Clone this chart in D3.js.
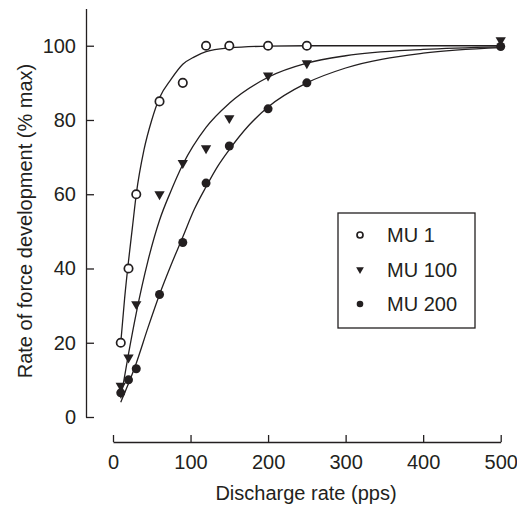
<!DOCTYPE html>
<html>
<head>
<meta charset="utf-8">
<script src="https://cdn.jsdelivr.net/npm/d3@7"></script>
<style>
  body { margin: 0; background: #fff; }
  svg text { font-family: "Liberation Sans", Arial, sans-serif; fill: #231f20; }
</style>
</head>
<body>
<svg id="chart" width="517" height="506"></svg>
<script>
// measured points
var rates = [10, 20, 30, 60, 90, 120, 150, 200, 250, 500];
var mu1 = [20, 40, 60, 85, 90, 100, 100, 100, 100, 100];
var mu100 = [8.4, 16, 30.4, 60, 68.4, 72.4, 80.5, 92, 95.3, 101.5];
var mu200 = [6.5, 10, 13, 33, 47, 63, 73, 83, 90, 99.8];

// fitted curves
var curve1X = [10, 15, 20, 25, 30, 40, 50, 60, 75, 90, 105, 120, 150, 200, 250, 300, 500];
var curve1Y = [20, 32, 42, 51, 60, 72, 80, 86, 91, 95, 97, 98.4, 99.4, 99.9, 100, 100, 100];
var curve100X = [10, 20, 30, 45, 60, 75, 90, 120, 150, 200, 250, 300, 400, 500];
var curve100Y = [5, 17, 28, 42, 53, 61, 68, 78, 84.5, 91.5, 95.3, 97.3, 99, 99.7];
var curve200X = [10, 20, 30, 45, 60, 75, 90, 105, 120, 135, 150, 175, 200, 250, 300, 400, 500];
var curve200Y = [4, 9, 14.5, 24, 33, 41, 48.5, 56, 62, 67.5, 72, 78.5, 83.5, 90, 94, 98, 99.5];

var xTicks = [0, 100, 200, 300, 400, 500];
var yTicks = [0, 20, 40, 60, 80, 100];
var legendLabels = ["MU 1", "MU 100", "MU 200"];

var svg = d3.select("#chart");
var ink = "#231f20";
var fs = "20px";

var x = d3.scaleLinear().domain([0, 500]).range([113, 500.7]);
var y = d3.scaleLinear().domain([0, 110]).range([417, 8.6]);

// axes
var xAxis = d3.axisBottom(x).tickValues(xTicks).tickSize(-7).tickSizeOuter(0).tickPadding(13);
var gx = svg.append("g").attr("transform", "translate(0,442)").call(xAxis);
var yAxis = d3.axisLeft(y).tickValues(yTicks).tickSize(-8).tickSizeOuter(0).tickPadding(10);
var gy = svg.append("g").attr("transform", "translate(86,0)").call(yAxis);

[gx, gy].forEach(function(g) {
  g.selectAll("path, line").attr("stroke", ink).attr("stroke-width", 1.3);
  g.selectAll("text").style("font-size", fs).attr("fill", ink);
});

svg.append("text")
  .attr("x", 306).attr("y", 500)
  .attr("text-anchor", "middle")
  .style("font-size", fs)
  .text("Discharge rate (pps)");

svg.append("text")
  .attr("transform", "translate(32,221) rotate(-90)")
  .attr("text-anchor", "middle")
  .style("font-size", fs)
  .text("Rate of force development (% max)");

// curves
var line = d3.line()
  .x(function(d) { return x(d[0]); })
  .y(function(d) { return y(d[1]); })
  .curve(d3.curveMonotoneX);

[[curve1X, curve1Y], [curve100X, curve100Y], [curve200X, curve200Y]].forEach(function(c) {
  svg.append("path")
    .datum(d3.zip(c[0], c[1]))
    .attr("d", line)
    .attr("fill", "none")
    .attr("stroke", ink)
    .attr("stroke-width", 1.3);
});

function drawOpen(g, cx, cy, r) {
  g.append("circle").attr("cx", cx).attr("cy", cy).attr("r", r)
    .attr("fill", "#fff").attr("stroke", ink).attr("stroke-width", 1.7);
}
function drawTri(g, cx, cy, s) {
  g.append("path").attr("d", d3.symbol().type(d3.symbolTriangle).size(s)())
    .attr("transform", "translate(" + cx + "," + cy + ") rotate(180)")
    .attr("fill", ink);
}
function drawDot(g, cx, cy, r) {
  g.append("circle").attr("cx", cx).attr("cy", cy).attr("r", r).attr("fill", ink);
}

var marks = svg.append("g");
rates.forEach(function(r, i) { drawTri(marks, x(r), y(mu100[i]), 46); });
rates.forEach(function(r, i) { drawDot(marks, x(r), y(mu200[i]), 4.5); });
rates.forEach(function(r, i) { if (r < 500) drawOpen(marks, x(r), y(mu1[i]), 4.2); });

// legend
var lg = svg.append("g");
lg.append("rect").attr("x", 338).attr("y", 213).attr("width", 137).attr("height", 115)
  .attr("fill", "#fff").attr("stroke", ink).attr("stroke-width", 1.3);
var rowY = [235, 269.5, 304];
drawOpen(lg, 360, rowY[0], 3);
drawTri(lg, 360, rowY[1], 26);
drawDot(lg, 360, rowY[2], 3.3);
legendLabels.forEach(function(t, i) {
  lg.append("text").attr("x", 387).attr("y", rowY[i] + 7)
    .style("font-size", fs).text(t);
});
</script>
</body>
</html>
